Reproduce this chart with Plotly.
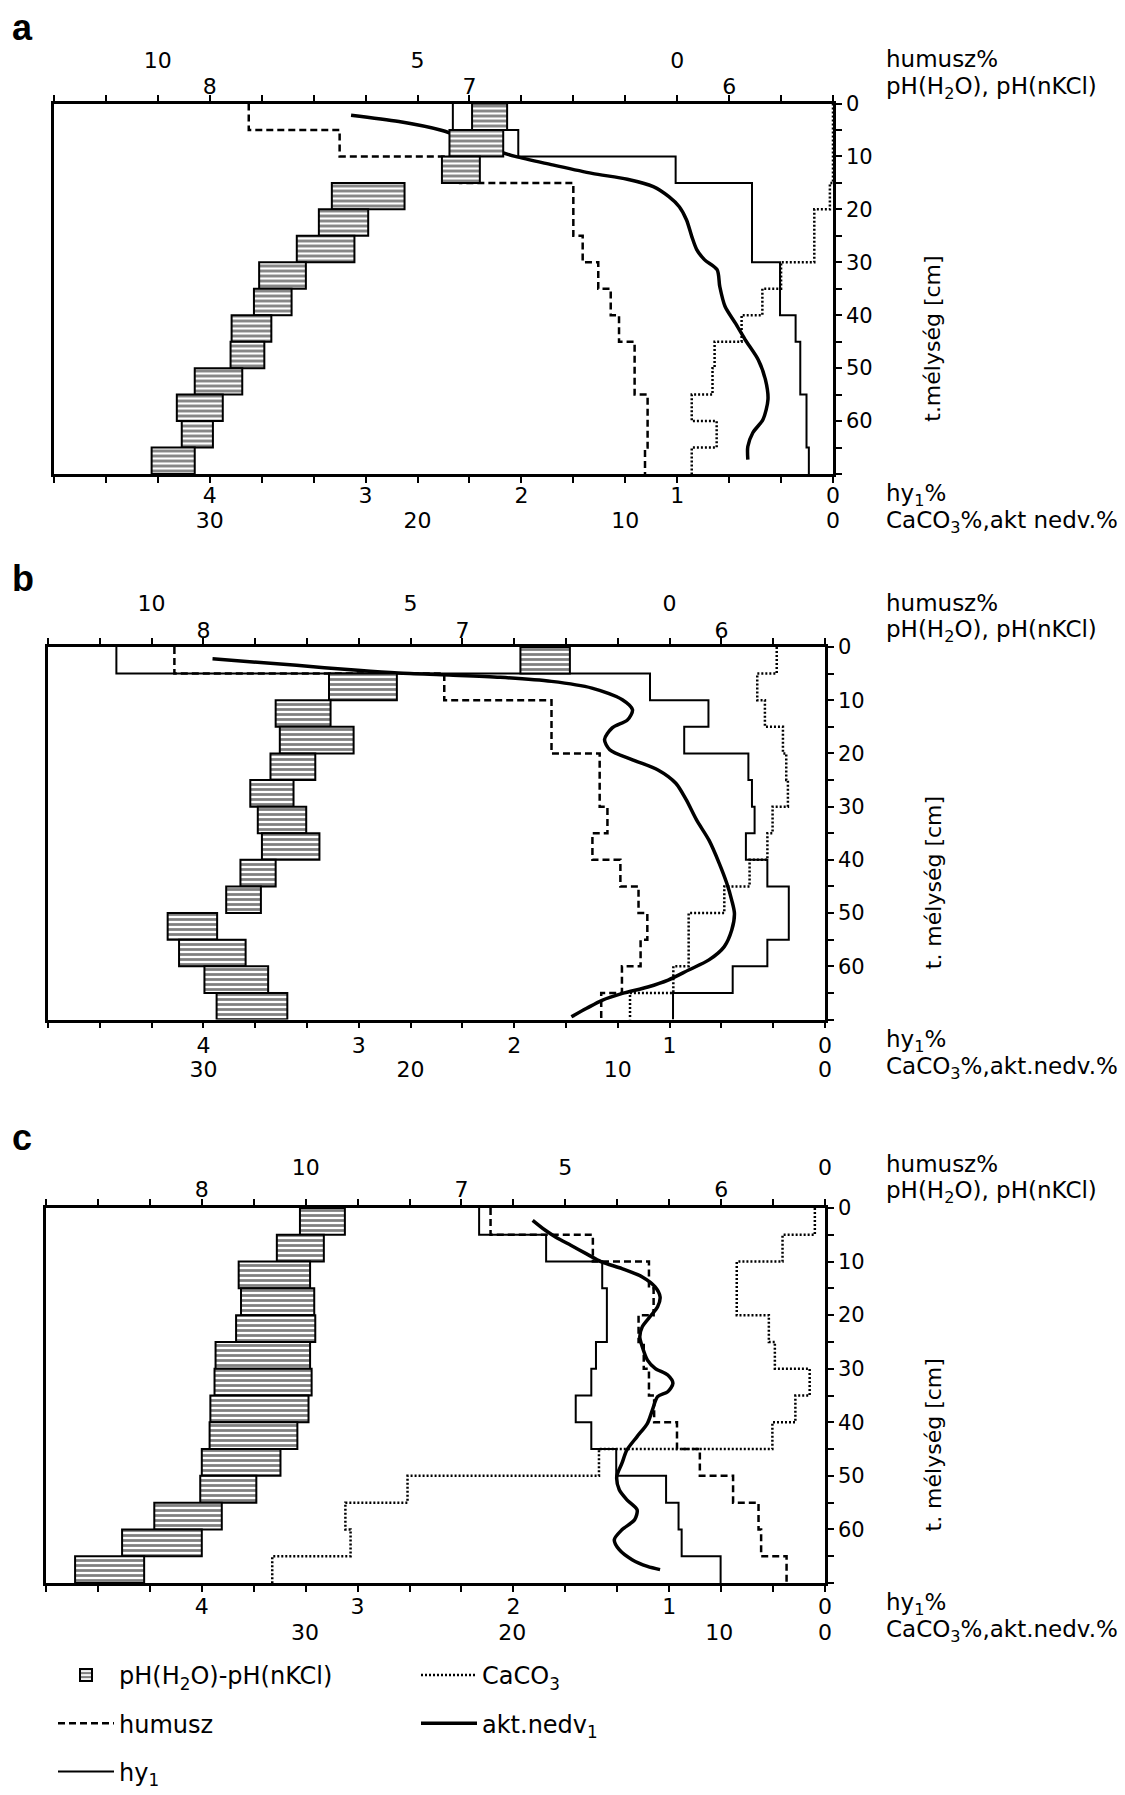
import plotly.graph_objects as go

# ---------------- data ----------------
DEPTH_TOPS = [0, 5, 10, 15, 20, 25, 30, 35, 40, 45, 50, 55, 60, 65]
DEPTH_BOTTOM = 70
DEPTH_TICKS = list(range(0, 71, 5))
DEPTH_LABELS = [str(v) if v % 10 == 0 and v <= 60 else "" for v in DEPTH_TICKS]

HY1_TICKS = [i / 3 for i in range(16)]
HY1_LABELS = [str(i // 3) if i % 3 == 0 and i // 3 <= 4 else "" for i in range(16)]
PH_TICKS = [8, 7, 6]
HUM_TICKS = [10, 5, 0]

# panel a
A_PH_H2O = [6.99, 7.077, 7.106, 7.53, 7.58, 7.665, 7.81, 7.83, 7.916, 7.92, 8.058, 8.127, 8.108, 8.224]
A_PH_KCL = [6.855, 6.87, 6.96, 7.25, 7.39, 7.443, 7.63, 7.685, 7.763, 7.79, 7.875, 7.95, 7.988, 8.058]
A_HUMUSZ = [8.25, 6.5, 4.18, 2.0, 2.0, 1.82, 1.52, 1.28, 1.12, 0.82, 0.82, 0.57, 0.57, 0.62]
A_HY1 = [2.44, 2.02, 1.01, 0.52, 0.52, 0.52, 0.34, 0.34, 0.24, 0.21, 0.21, 0.17, 0.17, 0.155]
A_CACO3 = [0, 0, 0, 0.15, 0.9, 0.9, 2.5, 3.4, 4.4, 5.7, 5.8, 6.8, 5.6, 6.8]
A_AKT_DEPTH = [2.2, 3.4, 5.0, 6.6, 8.5, 10.0, 11.6, 13.2, 14.3, 15.7, 17.6, 19.5, 22.0, 25.1,
               27.6, 29.5, 31.4, 34.6, 38.3, 41.5, 44.6, 48.4, 52.2, 55.9, 59.7, 62.2, 64.8, 67.3]
A_AKT = [23.2, 20.9, 18.9, 17.7, 16.5, 15.3, 13.5, 11.6, 9.9, 8.65, 7.9, 7.4, 7.05, 6.8,
         6.56, 6.19, 5.58, 5.45, 5.2, 4.7, 4.23, 3.6, 3.25, 3.13, 3.37, 3.86, 4.1, 4.1]

# panel b
B_PH_H2O = [6.776, 7.515, 7.721, 7.705, 7.741, 7.819, 7.79, 7.774, 7.857, 7.912, 8.138, 8.094, 7.996, 7.949]
B_PH_KCL = [6.585, 7.253, 7.509, 7.42, 7.568, 7.652, 7.603, 7.552, 7.721, 7.778, 7.947, 7.837, 7.75, 7.676]
B_HUMUSZ = [9.56, 4.35, 2.28, 2.28, 1.35, 1.35, 1.2, 1.49, 0.95, 0.6, 0.43, 0.56, 0.92, 1.32]
B_HY1 = [4.56, 1.126, 0.75, 0.906, 0.493, 0.47, 0.453, 0.509, 0.371, 0.233, 0.233, 0.371, 0.594, 0.978]
B_CACO3 = [2.33, 3.27, 2.9, 2.03, 1.87, 1.79, 2.53, 2.78, 3.64, 4.86, 6.58, 6.58, 7.32, 9.41]
B_AKT_DEPTH = [2.2, 3.45, 4.39, 4.9, 5.27, 5.7, 6.46, 7.72, 9.9, 11.8, 13.7, 15.2, 17.4, 19.3, 21.2,
               23.1, 25.6, 28.7, 32.5, 36.3, 40.6, 44.4, 47.6, 50.1, 53.2, 56.3, 58.8, 60.7, 62.6,
               63.9, 65.1, 66.4, 67.9, 69.5]
B_AKT = [29.56, 25.5, 22.55, 20.6, 18.13, 15.67, 13.2, 11.25, 9.78, 9.29, 9.53, 10.27, 10.64, 10.39,
         9.29, 8.06, 7.2, 6.7, 6.2, 5.6, 5.11, 4.74, 4.5, 4.37, 4.5, 4.86, 5.6, 6.58, 7.57, 8.55,
         9.78, 10.76, 11.5, 12.24]

# panel c
C_PH_H2O = [7.622, 7.711, 7.858, 7.849, 7.868, 7.947, 7.951, 7.967, 7.97, 8.0, 8.006, 8.183, 8.307, 8.488]
C_PH_KCL = [7.449, 7.53, 7.583, 7.567, 7.563, 7.583, 7.577, 7.589, 7.632, 7.697, 7.79, 7.923, 8.0, 8.222]
C_HUMUSZ = [6.44, 4.47, 3.39, 3.3, 3.59, 3.49, 3.39, 3.29, 2.85, 2.41, 1.77, 1.28, 1.23, 0.74]
C_HY1 = [2.22, 1.79, 1.43, 1.40, 1.40, 1.47, 1.50, 1.60, 1.50, 1.34, 1.02, 0.94, 0.92, 0.67]
C_CACO3 = [5.39, 6.95, 9.16, 9.16, 7.61, 7.32, 5.64, 6.33, 7.44, 15.81, 25.05, 28.05, 27.8, 31.58]
C_AKT_DEPTH = [2.3, 4.16, 5.4, 6.96, 8.51, 10.06, 11.3, 12.86, 14.72, 16.58, 18.45, 20.3, 22.17,
               24.04, 25.9, 28.4, 29.94, 31.18, 32.73, 34.29, 35.22, 37.7, 40.19, 42.67, 45.16,
               47.64, 50.12, 52.6, 54.47, 56.34, 58.2, 60.06, 61.93, 63.79, 65.65, 66.9, 67.5]
C_AKT = [19.01, 18.4, 17.91, 17.17, 16.43, 15.69, 14.7, 13.72, 13.1, 12.86, 12.98, 13.35, 13.72,
         13.84, 13.72, 13.47, 13.1, 12.49, 12.24, 12.49, 12.98, 13.23, 13.47, 13.97, 14.46,
         14.7, 14.95, 14.83, 14.46, 13.97, 14.09, 14.7, 15.07, 14.83, 14.21, 13.47, 12.86]

# ---------------- layout / style ----------------
W, H = 1125, 1795
FONT = "DejaVu Sans, Liberation Sans, sans-serif"
TICKFONT = dict(family=FONT, size=22, color="black")
LABFONT = dict(family=FONT, size=23, color="black")


def fx(px):  # pixel -> paper fraction
    return px / W


def fy(py):
    return 1 - py / H


PANELS = [
    dict(letter="a", left=54, right=833, top=103.5, bottom=474, letter_y=27,
         hum_off=31, ph_off=5.3, hy_standoff=-6, cac_off=30.5,
         hum_range=[12, -3], cac_range=[37.5, 0], cac_ticks=[30, 20, 10, 0],
         ph_h2o=A_PH_H2O, ph_kcl=A_PH_KCL, hum=A_HUMUSZ, hy1=A_HY1, cac=A_CACO3,
         akt_d=A_AKT_DEPTH, akt=A_AKT, depth_title="t.mélység [cm]",
         bottom_title="CaCO<sub>3</sub>%,akt nedv.%"),
    dict(letter="b", left=48, right=825, top=647, bottom=1019.5, letter_y=578,
         hum_off=31.5, ph_off=4.2, hy_standoff=-2, cac_off=34.5,
         hum_range=[12, -3], cac_range=[37.5, 0], cac_ticks=[30, 20, 10, 0],
         ph_h2o=B_PH_H2O, ph_kcl=B_PH_KCL, hum=B_HUMUSZ, hy1=B_HY1, cac=B_CACO3,
         akt_d=B_AKT_DEPTH, akt=B_AKT, depth_title="t. mélység [cm]",
         bottom_title="CaCO<sub>3</sub>%,akt.nedv.%"),
    dict(letter="c", left=46, right=825, top=1208, bottom=1583, letter_y=1137,
         hum_off=29, ph_off=6.9, hy_standoff=-4, cac_off=33.5,
         hum_range=[15, 0], cac_range=[42.5, 4.9], cac_ticks=[30, 20, 10],
         ph_h2o=C_PH_H2O, ph_kcl=C_PH_KCL, hum=C_HUMUSZ, hy1=C_HY1, cac=C_CACO3,
         akt_d=C_AKT_DEPTH, akt=C_AKT, depth_title="t. mélység [cm]",
         bottom_title="CaCO<sub>3</sub>%,akt.nedv.%"),
]


def step_xy(vals):
    return list(vals) + [vals[-1]], list(DEPTH_TOPS) + [DEPTH_BOTTOM]


fig = go.Figure()
layout = dict(
    width=W, height=H, margin=dict(l=0, r=0, t=0, b=0, pad=0, autoexpand=False),
    paper_bgcolor="white", plot_bgcolor="white",
    font=dict(family=FONT, size=22, color="black"),
    showlegend=True,
    annotations=[],
)

for p, P in enumerate(PANELS):
    k = 4 * p + 1
    ref = lambda i: "x" if i == 1 else f"x{i}"
    lname = lambda i: "xaxis" if i == 1 else f"xaxis{i}"
    yref = "y" if p == 0 else f"y{p + 1}"
    yname = "yaxis" if p == 0 else f"yaxis{p + 1}"
    dom = [fx(P["left"]), fx(P["right"])]
    last = p == 2

    # hy1 axis (bottom, frame)
    layout[lname(k)] = dict(
        domain=dom, range=[5, 0], anchor=yref, showline=True, linewidth=2.5,
        linecolor="black", mirror="ticks", ticks="outside", ticklen=6, tickwidth=2,
        tickcolor="black", tickmode="array", tickvals=HY1_TICKS, ticktext=HY1_LABELS,
        ticklabelstandoff=P["hy_standoff"],
        showgrid=False, zeroline=False, tickfont=TICKFONT, automargin=False)
    # CaCO3 / akt.nedv axis (bottom second row)
    layout[lname(k + 1)] = dict(
        overlaying=ref(k), range=P["cac_range"], anchor="free", side="bottom",
        position=fy(P["bottom"] + P["cac_off"]), showline=False, ticks="",
        tickmode="array", tickvals=P["cac_ticks"], ticktext=[str(v) for v in P["cac_ticks"]],
        showgrid=False, zeroline=False, tickfont=TICKFONT, automargin=False)
    # humusz axis (top upper row)
    layout[lname(k + 2)] = dict(
        overlaying=ref(k), range=P["hum_range"], anchor="free", side="top",
        position=fy(P["top"] - P["hum_off"]), showline=False, ticks="",
        tickmode="array", tickvals=HUM_TICKS, ticktext=[str(v) for v in HUM_TICKS],
        showgrid=False, zeroline=False, tickfont=TICKFONT, automargin=False)
    # pH axis (top lower row)
    layout[lname(k + 3)] = dict(
        overlaying=ref(k), range=[8.6, 5.6], anchor="free", side="top",
        position=fy(P["top"] - P["ph_off"]), showline=False, ticks="",
        tickmode="array", tickvals=PH_TICKS, ticktext=[str(v) for v in PH_TICKS],
        showgrid=False, zeroline=False, tickfont=TICKFONT, automargin=False)
    # depth axis
    layout[yname] = dict(
        domain=[fy(P["bottom"]), fy(P["top"])], range=[DEPTH_BOTTOM, 0], anchor=ref(k),
        side="right", showline=True, mirror=True, linewidth=2.5, linecolor="black",
        ticks="outside", ticklen=6, tickwidth=2, tickcolor="black",
        tickmode="array", tickvals=DEPTH_TICKS, ticktext=DEPTH_LABELS,
        showgrid=False, zeroline=False, tickfont=dict(family=FONT, size=21, color="black"),
        automargin=False)

    # pH(H2O)-pH(nKCl) boxes
    fig.add_trace(go.Bar(
        y=[t + 2.5 for t in DEPTH_TOPS],
        x=[h - c for h, c in zip(P["ph_h2o"], P["ph_kcl"])],
        base=P["ph_kcl"], width=5, orientation="h",
        xaxis=ref(k + 3), yaxis=yref,
        marker=dict(color="white", line=dict(color="black", width=2),
                    pattern=dict(shape="-", fgcolor="black", bgcolor="white",
                                 size=5, solidity=0.55)),
        name="pH(H<sub>2</sub>O)-pH(nKCl)", showlegend=last, legend="legend",
        legendgroup="ph"))
    # humusz
    hx, hy = step_xy(P["hum"])
    fig.add_trace(go.Scatter(
        x=hx, y=hy, mode="lines", line=dict(shape="vh", color="black", width=2.5, dash="7px,4px"),
        xaxis=ref(k + 2), yaxis=yref, name="humusz", showlegend=last, legend="legend",
        legendgroup="hum"))
    # hy1
    yx, yy = step_xy(P["hy1"])
    fig.add_trace(go.Scatter(
        x=yx, y=yy, mode="lines", line=dict(shape="vh", color="black", width=2),
        xaxis=ref(k), yaxis=yref, name="hy<sub>1</sub>", showlegend=last, legend="legend",
        legendgroup="hy"))
    # CaCO3
    cx, cy = step_xy(P["cac"])
    fig.add_trace(go.Scatter(
        x=cx, y=cy, mode="lines", line=dict(shape="vh", color="black", width=2.5, dash="2px,2px"),
        xaxis=ref(k + 1), yaxis=yref, name="CaCO<sub>3</sub>", showlegend=last, legend="legend2",
        legendgroup="cac"))
    # akt. nedv.
    fig.add_trace(go.Scatter(
        x=P["akt"], y=P["akt_d"], mode="lines",
        line=dict(shape="spline", smoothing=0.8, color="black", width=3.5),
        xaxis=ref(k + 1), yaxis=yref, name="akt.nedv<sub>1</sub>", showlegend=last,
        legend="legend2", legendgroup="akt"))

    # texts
    ann = layout["annotations"]
    ann.append(dict(text="<b>%s</b>" % P["letter"], xref="paper", yref="paper", x=fx(10),
                    y=fy(P["letter_y"]), xanchor="left", yanchor="middle", showarrow=False,
                    font=dict(family="Liberation Sans, Arial, sans-serif", size=36, color="black")))
    ann.append(dict(text="humusz%", xref="paper", yref="paper", x=fx(884),
                    y=fy(P["top"] - 44), xanchor="left", yanchor="middle", showarrow=False,
                    font=LABFONT))
    ann.append(dict(text="pH(H<sub>2</sub>O), pH(nKCl)", xref="paper", yref="paper", x=fx(884),
                    y=fy(P["top"] - 16), xanchor="left", yanchor="middle", showarrow=False,
                    font=LABFONT))
    ann.append(dict(text="hy<sub>1</sub>%", xref="paper", yref="paper", x=fx(884),
                    y=fy(P["bottom"] + 21), xanchor="left", yanchor="middle", showarrow=False,
                    font=LABFONT))
    ann.append(dict(text=P["bottom_title"], xref="paper", yref="paper", x=fx(884),
                    y=fy(P["bottom"] + 48), xanchor="left", yanchor="middle", showarrow=False,
                    font=LABFONT))
    ann.append(dict(text=P["depth_title"], xref="paper", yref="paper", x=fx(933),
                    y=fy((P["top"] + P["bottom"]) / 2 + 50), xanchor="center", yanchor="middle",
                    textangle=-90, showarrow=False, font=dict(family=FONT, size=22)))
    if p == 2:
        ann.append(dict(text="0", xref="paper", yref="paper", x=fx(P["right"]),
                        y=fy(P["bottom"] + 49), xanchor="center", yanchor="middle",
                        showarrow=False, font=TICKFONT))

LEGFONT = dict(family=FONT, size=24, color="black")
layout["legend"] = dict(x=fx(53), y=fy(1653), xanchor="left", yanchor="top",
                        font=LEGFONT, tracegroupgap=14, itemwidth=56,
                        bgcolor="rgba(0,0,0,0)", traceorder="grouped")
layout["legend2"] = dict(x=fx(416), y=fy(1653), xanchor="left", yanchor="top",
                         font=LEGFONT, tracegroupgap=14, itemwidth=56,
                         bgcolor="rgba(0,0,0,0)", traceorder="grouped")

fig.update_layout(**layout)
fig.write_html("out.html", config={"displayModeBar": False},
               post_script="document.body.style.margin='0px';")
